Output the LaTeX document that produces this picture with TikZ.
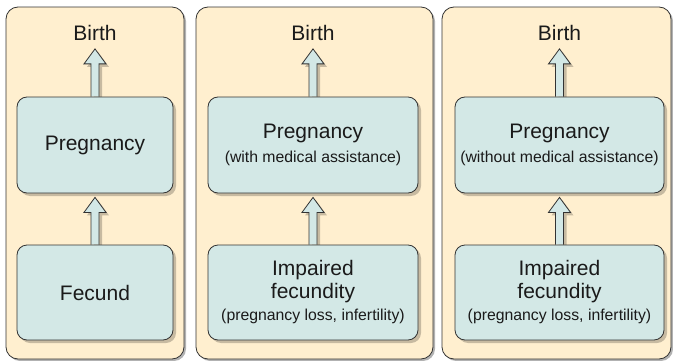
\documentclass[tikz,border=0pt]{standalone}
\usepackage{fontspec}
\setmainfont{Liberation Sans}
\usetikzlibrary{calc, shadows}

\definecolor{panelfill}{HTML}{FFEFCF}
\definecolor{boxfill}{HTML}{D3E8E6}
\definecolor{edgecol}{HTML}{333333}
\definecolor{textcol}{HTML}{1A1A1A}

\newcommand{\stagefont}{\fontsize{21}{22.5}\selectfont}
\newcommand{\subfont}{\fontsize{15.8}{19}\selectfont}

\pgfdeclarelayer{panels}
\pgfdeclarelayer{arrows}
\pgfsetlayers{panels,arrows,main}

\tikzset{
  boxshadow/.style={drop shadow={shadow xshift=3pt, shadow yshift=-3pt, fill=black, opacity=0.22}},
  panel/.style={draw=edgecol, line width=0.8pt, fill=panelfill, rounded corners=12pt,
    drop shadow={shadow xshift=2pt, shadow yshift=-2pt, fill=black, opacity=0.3}},
  stagebox/.style={draw=edgecol, line width=0.8pt, fill=boxfill, rounded corners=10pt,
    boxshadow, align=center, inner sep=0pt, text=textcol, font=\stagefont},
  endlabel/.style={inner sep=4pt, text=textcol, font=\stagefont},
  liftstyle/.style={draw=edgecol, line width=0.8pt, fill=boxfill, line join=miter, boxshadow}
}

% block arrow from the top of one node up to just below another
\newcommand{\liftarrow}[2]{%
  \draw[liftstyle] let \p1=(#1.north), \p2=($(#2.south)+(0,-4pt)$) in
    (\x1-4pt,\y1) -- (\x1-4pt,\y2-15pt) -- (\x1-11pt,\y2-15pt) -- (\x1,\y2)
    -- (\x1+11pt,\y2-15pt) -- (\x1+4pt,\y2-15pt) -- (\x1+4pt,\y1);
}

\begin{document}
\begin{tikzpicture}[x=1pt, y=1pt]
  \useasboundingbox (0,0) rectangle (673,360);

  % Panels
  \begin{pgfonlayer}{panels}
    \draw[panel] (6,1) rectangle (184,353);
    \draw[panel] (196,1) rectangle (433,353);
    \draw[panel] (442,1) rectangle (671,353);
  \end{pgfonlayer}

  % First panel
  \node[endlabel] (birthA) at (95,327) {Birth};
  \node[stagebox, minimum width=156pt, minimum height=96pt] (pregA) at (95,215) {Pregnancy};
  \node[stagebox, minimum width=156pt, minimum height=95pt] (fecA) at (95,67.5) {Fecund};

  % Second panel
  \node[endlabel] (birthB) at (313,327) {Birth};
  \node[stagebox, minimum width=210pt, minimum height=96pt] (pregB) at (313,215)
    {Pregnancy\\[1pt]{\subfont (with medical assistance)}};
  \node[stagebox, minimum width=210pt, minimum height=95pt] (fecB) at (313,67.5)
    {Impaired\\fecundity\\{\subfont (pregnancy loss, infertility)}};

  % Third panel
  \node[endlabel] (birthC) at (559.5,327) {Birth};
  \node[stagebox, minimum width=209pt, minimum height=96pt] (pregC) at (559.5,215)
    {Pregnancy\\[1pt]{\subfont (without medical assistance)}};
  \node[stagebox, minimum width=209pt, minimum height=95pt] (fecC) at (559.5,67.5)
    {Impaired\\fecundity\\{\subfont (pregnancy loss, infertility)}};

  % Arrows
  \begin{pgfonlayer}{arrows}
    \liftarrow{pregA}{birthA}
    \liftarrow{fecA}{pregA}
    \liftarrow{pregB}{birthB}
    \liftarrow{fecB}{pregB}
    \liftarrow{pregC}{birthC}
    \liftarrow{fecC}{pregC}
  \end{pgfonlayer}

\end{tikzpicture}
\end{document}
